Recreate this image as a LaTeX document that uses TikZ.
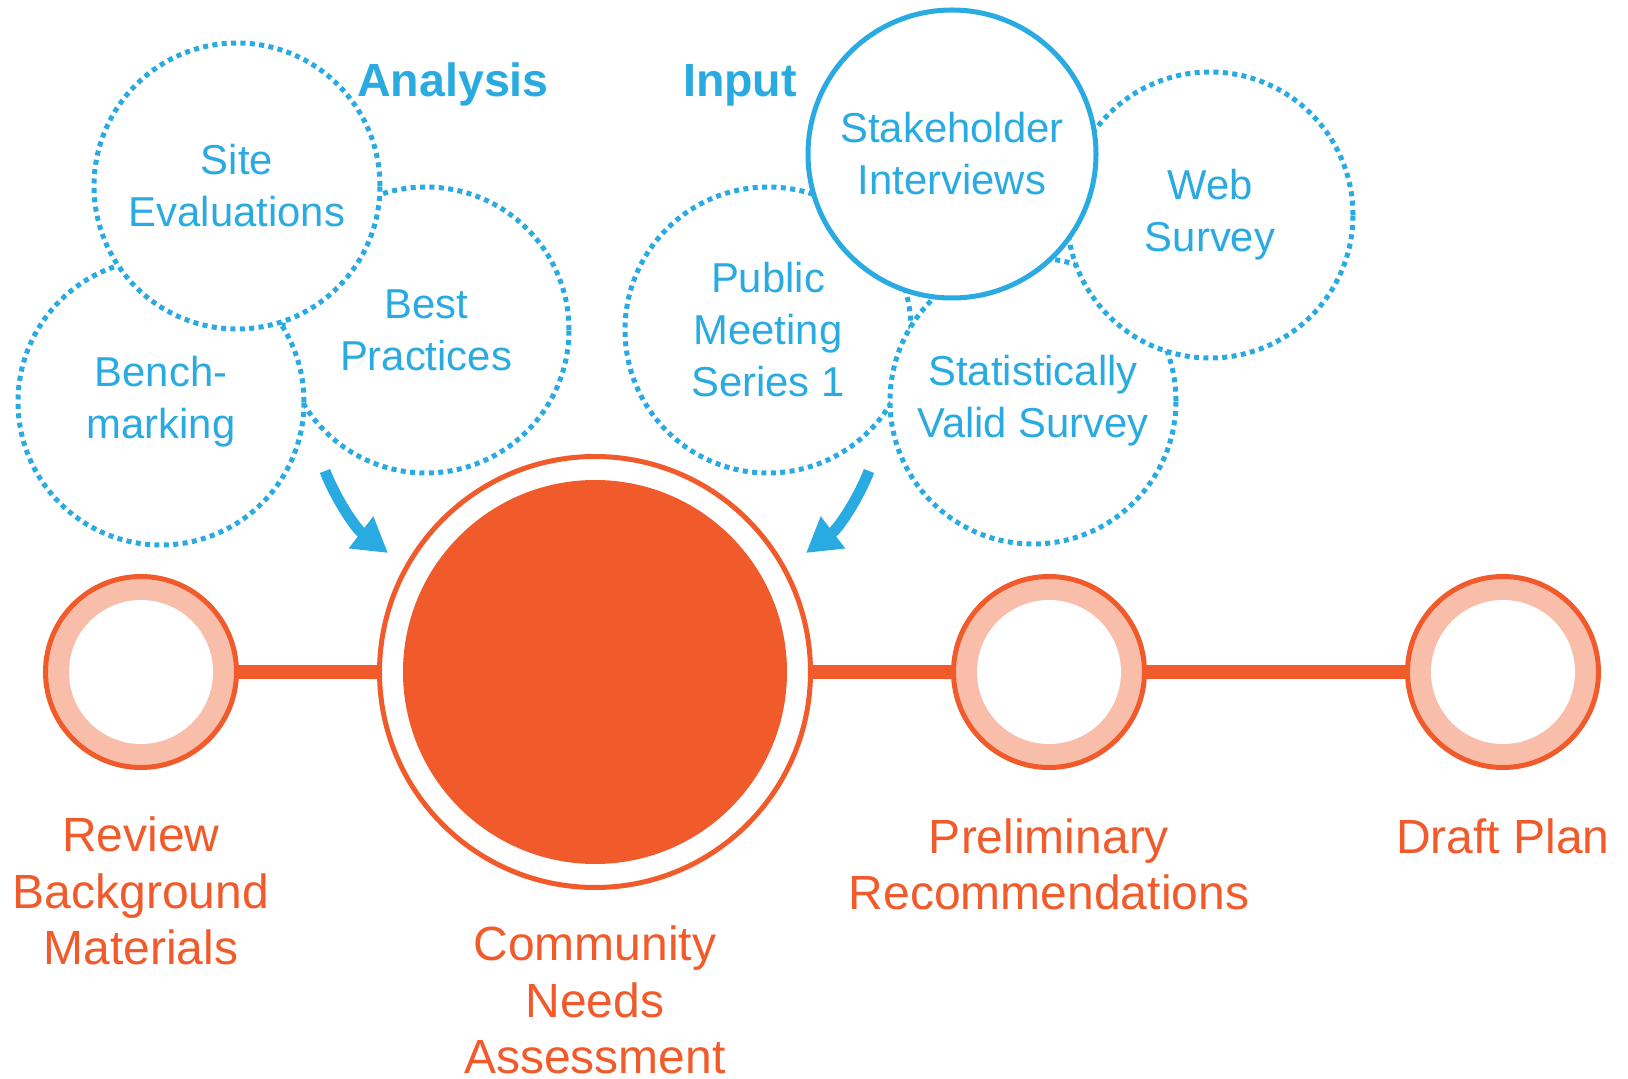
\documentclass[tikz,border=0pt]{standalone}
\usepackage{fontspec}
\setmainfont{Liberation Sans}
\usetikzlibrary{positioning, arrows.meta}
\definecolor{skyblue}{HTML}{29ABE2}
\definecolor{burnt}{HTML}{F15A2B}
\definecolor{salmon}{HTML}{F9BEA9}

\begin{document}
\begin{tikzpicture}[x=0.5pt, y=-0.5pt, node distance=227pt, semithick]
	\tikzstyle{every node}=[inner sep=0pt, outer sep=0pt]
	\tikzstyle{idea}=[circle, minimum size=143pt, draw=skyblue, fill=white, line width=2.5pt, dash pattern=on 2.5pt off 2.2pt, text=skyblue, align=center, font=\fontsize{20.9}{26}\selectfont]
	\tikzstyle{key idea}=[idea, solid, line width=2.5pt, minimum size=144pt]
	\tikzstyle{stage}=[circle, minimum size=95.5pt, draw=burnt, line width=2.5pt, fill=salmon, path picture={\fill[white] (path picture bounding box.center) circle (36pt);}]
	\tikzstyle{big stage}=[circle, minimum size=215.5pt, draw=burnt, line width=2.5pt, fill=white, path picture={\fill[burnt] (path picture bounding box.center) circle (96pt);}]
	\tikzstyle{stage label}=[text=burnt, align=center, font=\fontsize{24}{28.3}\selectfont]
	\tikzstyle{title}=[text=skyblue, anchor=base, font=\fontsize{23.3}{28}\selectfont\bfseries]
	\tikzstyle{flow}=[draw=skyblue, line width=5.5pt, -{Triangle[width=19pt, length=17pt]}]
	\useasboundingbox (0,0) rectangle (1628,1079);
	\node[stage] (REVIEW) at (141,672) {};
	\node[big stage] (CNA) [right of=REVIEW] {};
	\node[stage] (PRELIM) [right of=CNA] {};
	\node[stage] (DRAFT) [right of=PRELIM] {};
	\draw[burnt, line width=7pt] (REVIEW) -- (CNA) (CNA) -- (PRELIM) (PRELIM) -- (DRAFT);
	\node[stage label, below=24.75pt of REVIEW] (REVIEWTXT) {Review\\Background\\Materials};
	\node[stage label, below=19.25pt of CNA] (CNATXT) {Community\\Needs\\Assessment};
	\node[stage label, below=25.5pt of PRELIM] (PRELIMTXT) {Preliminary\\Recommendations};
	\node[stage label, below=25.5pt of DRAFT] (DRAFTTXT) {Draft Plan};
	% analysis side
	\node[idea] (BEST) at (426,330) {Best\\Practices};
	\node[idea] (BENCH) at (161,402) {Bench-\\marking};
	\node[idea] (SITE) at (237,186) {Site\\Evaluations};
	% input side
	\node[idea] (PUBLIC) at (768,330) {Public\\Meeting\\Series 1};
	\node[idea] (STAT) at (1033,401) {Statistically\\Valid Survey};
	\node[idea] (WEB) at (1210,215) {Web\\Survey};
	\node[key idea] (STAKE) at (952,154) {Stakeholder\\Interviews};
	\node[title] (ANALYSIS) at (453,97) {Analysis};
	\node[title] (INPUT) at (740,97) {Input};
	\coordinate (LEFTIN) at (325,471);
	\coordinate (LEFTTIP) at (388,553);
	\coordinate (RIGHTIN) at (869,471);
	\coordinate (RIGHTTIP) at (806,553);
	\draw[flow] (LEFTIN) .. controls +(9,24) and +(-34,-26) .. (LEFTTIP);
	\draw[flow] (RIGHTIN) .. controls +(-9,24) and +(34,-26) .. (RIGHTTIP);
\end{tikzpicture}
\end{document}
